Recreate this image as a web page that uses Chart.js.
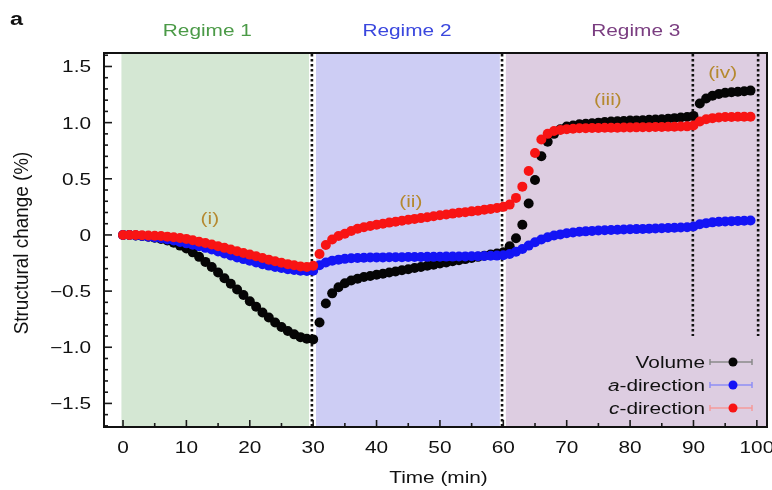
<!DOCTYPE html>
<html>
<head>
<meta charset="utf-8">
<script src="https://cdn.jsdelivr.net/npm/chart.js@4.4.1/dist/chart.umd.min.js"></script>
<style>
  html, body { margin: 0; padding: 0; background: #fff; }
  #wrap { width: 772px; height: 490px; }
</style>
</head>
<body>
<div id="wrap"><canvas id="chart" width="772" height="490"></canvas></div>
<script>
// sampling time (min)
const minutes = [
  0, 1, 2, 3, 4, 5, 6, 7, 8, 9, 10, 11, 12, 13, 14, 15, 16, 17, 18, 19,
  20, 21, 22, 23, 24, 25, 26, 27, 28, 29, 30, 31, 32, 33, 34, 35, 36, 37, 38, 39,
  40, 41, 42, 43, 44, 45, 46, 47, 48, 49, 50, 51, 52, 53, 54, 55, 56, 57, 58, 59,
  60, 61, 62, 63, 64, 65, 66, 67, 68, 69, 70, 71, 72, 73, 74, 75, 76, 77, 78, 79,
  80, 81, 82, 83, 84, 85, 86, 87, 88, 89, 90, 91, 92, 93, 94, 95, 96, 97, 98, 99
];

// structural change (%)
const volume = [
  0, 0, -0.005, -0.01, -0.015, -0.025, -0.035, -0.05, -0.07, -0.095,
  -0.12, -0.155, -0.195, -0.24, -0.285, -0.335, -0.385, -0.435, -0.485, -0.535,
  -0.59, -0.64, -0.69, -0.735, -0.78, -0.82, -0.855, -0.885, -0.91, -0.925,
  -0.93, -0.78, -0.61, -0.52, -0.465, -0.43, -0.405, -0.39, -0.375, -0.365,
  -0.355, -0.345, -0.335, -0.325, -0.315, -0.305, -0.295, -0.285, -0.275, -0.265,
  -0.255, -0.245, -0.235, -0.225, -0.215, -0.205, -0.195, -0.185, -0.175, -0.165,
  -0.155, -0.1, -0.03, 0.09, 0.28, 0.49, 0.7, 0.83, 0.9, 0.94,
  0.965, 0.975, 0.985, 0.99, 0.995, 1.0, 1.005, 1.01, 1.012, 1.015,
  1.018, 1.02, 1.022, 1.025, 1.028, 1.03, 1.035, 1.04, 1.045, 1.05,
  1.06, 1.17, 1.215, 1.24, 1.255, 1.265, 1.27, 1.275, 1.28, 1.285
];
const aDirection = [
  0, 0, -0.005, -0.01, -0.015, -0.022, -0.03, -0.04, -0.05, -0.062,
  -0.075, -0.087, -0.1, -0.115, -0.13, -0.148, -0.165, -0.183, -0.2, -0.215,
  -0.23, -0.245, -0.26, -0.273, -0.285, -0.295, -0.305, -0.312, -0.318, -0.32,
  -0.318, -0.27, -0.245, -0.23, -0.22, -0.213, -0.208, -0.205, -0.203, -0.201,
  -0.2, -0.2, -0.199, -0.199, -0.198, -0.197, -0.197, -0.196, -0.195, -0.195,
  -0.194, -0.193, -0.193, -0.192, -0.191, -0.19, -0.189, -0.188, -0.186, -0.184,
  -0.18, -0.17, -0.15, -0.125, -0.095, -0.065, -0.04, -0.02, -0.005, 0.005,
  0.015, 0.022, 0.028, 0.032, 0.036, 0.04, 0.042, 0.044, 0.046, 0.048,
  0.05, 0.052, 0.054, 0.056, 0.058, 0.06, 0.062, 0.064, 0.066, 0.068,
  0.075, 0.095, 0.105, 0.112, 0.117, 0.12, 0.123, 0.125, 0.127, 0.128
];
const cDirection = [
  0, 0, 0, -0.002, -0.005, -0.007, -0.01, -0.015, -0.02, -0.027,
  -0.035, -0.047, -0.06, -0.072, -0.085, -0.1, -0.115, -0.13, -0.145, -0.16,
  -0.175, -0.19, -0.205, -0.22, -0.235, -0.248, -0.26, -0.27, -0.28, -0.285,
  -0.275, -0.17, -0.09, -0.04, -0.01, 0.01, 0.035, 0.055, 0.068, 0.08,
  0.09, 0.1, 0.11, 0.118, 0.127, 0.135, 0.143, 0.15, 0.158, 0.166,
  0.175, 0.182, 0.19, 0.197, 0.203, 0.21, 0.216, 0.225, 0.232, 0.24,
  0.25, 0.27, 0.33, 0.43, 0.57, 0.73, 0.85, 0.9, 0.925, 0.935,
  0.942, 0.946, 0.95, 0.951, 0.952, 0.953, 0.954, 0.955, 0.955, 0.956,
  0.957, 0.958, 0.959, 0.96, 0.961, 0.962, 0.963, 0.964, 0.965, 0.967,
  0.975, 1.01, 1.03, 1.04, 1.045, 1.05, 1.05, 1.052, 1.053, 1.053
];

const xTickLabels = [0, 10, 20, 30, 40, 50, 60, 70, 80, 90, 100];
const yTickLabels = [-1.5, -1.0, -0.5, 0, 0.5, 1.0, 1.5];

const regimeNames = ['Regime 1', 'Regime 2', 'Regime 3'];
const regimeSpans = [[-0.25, 29.35], [30.45, 59.45], [60.4, 102]];
const dividerMinutes = [29.8, 59.8, 89.9, 100.2];
const dividerEnds = [null, null, -0.9, -0.9];
const stageLabels = ['(i)', '(ii)', '(iii)', '(iv)'];
const stageAt = [[13.7, 0.1], [45.4, 0.25], [76.5, 1.16], [94.6, 1.393]];

const seriesNames = ['Volume', 'a-direction', 'c-direction'];

const FONT = '"Liberation Sans", Arial, sans-serif';
const STRETCH = 1.3;

function drawText(ctx, str, x, y, size, color, align, style) {
    ctx.save();
    ctx.font = (style || '') + ' ' + size + 'px ' + FONT;
    ctx.fillStyle = color;
    ctx.textAlign = align;
    ctx.textBaseline = 'alphabetic';
    ctx.translate(x, y);
    ctx.scale(STRETCH, 1);
    ctx.fillText(str, 0, 0);
    ctx.restore();
}

function textWidth(ctx, str, size, style) {
    ctx.save();
    ctx.font = (style || '') + ' ' + size + 'px ' + FONT;
    const w = ctx.measureText(str).width * STRETCH;
    ctx.restore();
    return w;
}

function fmtTick(v) {
    if (v === 0) return '0';
    return (v < 0 ? '\u2212' : '') + Math.abs(v).toFixed(1);
}

const regimeFills = ['#d4e7d3', '#cdcdf4', '#ddcde1'];
const regimeColors = ['#4b9a47', '#3a47de', '#7a3d80'];
const dotColors = ['#050505', '#1414f5', '#f81414'];
const barColors = ['#8a8a8a', '#8f8ff5', '#f59a9a'];

const decor = {
    id: 'decor',
    beforeDatasetsDraw(chart) {
        const { ctx, chartArea: a, scales: { x, y } } = chart;
        ctx.save();
        regimeSpans.forEach((s, i) => {
            const x0 = Math.max(x.getPixelForValue(s[0]), a.left);
            const x1 = Math.min(x.getPixelForValue(s[1]), a.right);
            ctx.fillStyle = regimeFills[i];
            ctx.fillRect(x0, a.top, x1 - x0, a.bottom - a.top);
        });
        ctx.strokeStyle = '#111';
        ctx.lineWidth = 2.6;
        ctx.setLineDash([2.5, 2.5]);
        dividerMinutes.forEach((t, i) => {
            const px = x.getPixelForValue(t);
            const end = dividerEnds[i] === null ? a.bottom : y.getPixelForValue(dividerEnds[i]);
            ctx.beginPath();
            ctx.moveTo(px, a.top + 1);
            ctx.lineTo(px, end);
            ctx.stroke();
        });
        ctx.restore();
    },
    afterDraw(chart) {
        const { ctx, chartArea: a, scales: { x, y } } = chart;
        ctx.save();

        // ticks, pointing inward
        ctx.strokeStyle = '#1a1a1a';
        ctx.lineWidth = 1.6;
        for (let k = -17; k <= 16; k++) {
            const py = y.getPixelForValue(k / 10);
            const len = k % 5 === 0 ? 8 : 4;
            ctx.beginPath();
            ctx.moveTo(a.left, py);
            ctx.lineTo(a.left + len, py);
            ctx.stroke();
        }
        for (let k = 0; k <= 20; k++) {
            const px = x.getPixelForValue(k * 5);
            const len = k % 2 === 0 ? 7 : 4;
            ctx.beginPath();
            ctx.moveTo(px, a.bottom);
            ctx.lineTo(px, a.bottom - len);
            ctx.stroke();
        }

        // frame
        ctx.lineWidth = 2;
        ctx.strokeStyle = '#111';
        ctx.strokeRect(a.left, a.top, a.right - a.left, a.bottom - a.top);

        // tick labels
        yTickLabels.forEach(v => {
            drawText(ctx, fmtTick(v), 91, y.getPixelForValue(v) + 6, 16, '#111', 'right');
        });
        xTickLabels.forEach(v => {
            drawText(ctx, String(v), x.getPixelForValue(v), 453, 16, '#111', 'center');
        });

        // axis titles
        drawText(ctx, 'Time (min)', (a.left + a.right) / 2 + 3, 483, 16, '#111', 'center');
        ctx.save();
        ctx.translate(28, 243);
        ctx.rotate(-Math.PI / 2);
        ctx.scale(1.11, 1.2);
        ctx.font = '17px ' + FONT;
        ctx.fillStyle = '#111';
        ctx.textAlign = 'center';
        ctx.textBaseline = 'alphabetic';
        ctx.fillText('Structural change (%)', 0, 0);
        ctx.restore();

        // panel letter and regime titles
        drawText(ctx, 'a', 10, 25, 18, '#111', 'left', 'bold');
        const regimeCentres = [13.3, 44.8, 80.9];
        regimeNames.forEach((name, i) => {
            drawText(ctx, name, x.getPixelForValue(regimeCentres[i]), 36, 16, regimeColors[i], 'center');
        });

        // stage labels
        stageLabels.forEach((s, i) => {
            drawText(ctx, s, x.getPixelForValue(stageAt[i][0]), y.getPixelForValue(stageAt[i][1]), 16, '#b5892f', 'center');
        });

        // legend
        const right = 705;
        const rows = [368, 391, 414];
        seriesNames.forEach((name, i) => {
            const base = rows[i];
            if (i === 0) {
                drawText(ctx, name, right, base, 16, '#111', 'right');
            } else {
                const rest = name.slice(1);
                const w = textWidth(ctx, rest, 16);
                drawText(ctx, rest, right, base, 16, '#111', 'right');
                drawText(ctx, name[0], right - w, base, 16, '#111', 'right', 'italic');
            }
            const cy = base - 6;
            ctx.strokeStyle = barColors[i];
            ctx.lineWidth = 1.5;
            ctx.beginPath();
            ctx.moveTo(710, cy); ctx.lineTo(752, cy);
            ctx.moveTo(710, cy - 3); ctx.lineTo(710, cy + 3);
            ctx.moveTo(752, cy - 3); ctx.lineTo(752, cy + 3);
            ctx.stroke();
            ctx.fillStyle = dotColors[i];
            ctx.beginPath();
            ctx.arc(733, cy, 4.5, 0, Math.PI * 2);
            ctx.fill();
        });

        ctx.restore();
    }
};

function points(values) {
    return minutes.map((m, i) => ({ x: m, y: values[i] }));
}

const allSeries = [volume, aDirection, cDirection];

new Chart(document.getElementById('chart'), {
    type: 'scatter',
    data: {
        datasets: allSeries.map((vals, i) => ({
            label: seriesNames[i],
            data: points(vals),
            backgroundColor: dotColors[i],
            borderWidth: 0,
            pointRadius: 5,
            order: 3 - i
        }))
    },
    options: {
        responsive: false,
        animation: false,
        events: [],
        layout: { padding: { top: 53, right: 5, left: 0, bottom: 0 } },
        plugins: { legend: { display: false }, tooltip: { enabled: false } },
        scales: {
            x: {
                type: 'linear',
                min: -3,
                max: 101.6,
                grid: { display: false, drawTicks: false },
                border: { display: false },
                ticks: { display: false, stepSize: 10, includeBounds: false },
                afterFit: s => { s.height = 63; }
            },
            y: {
                min: -1.71,
                max: 1.62,
                grid: { display: false, drawTicks: false },
                border: { display: false },
                ticks: { display: false, stepSize: 0.5, includeBounds: false },
                afterFit: s => { s.width = 104; }
            }
        }
    },
    plugins: [decor]
});
</script>
</body>
</html>
